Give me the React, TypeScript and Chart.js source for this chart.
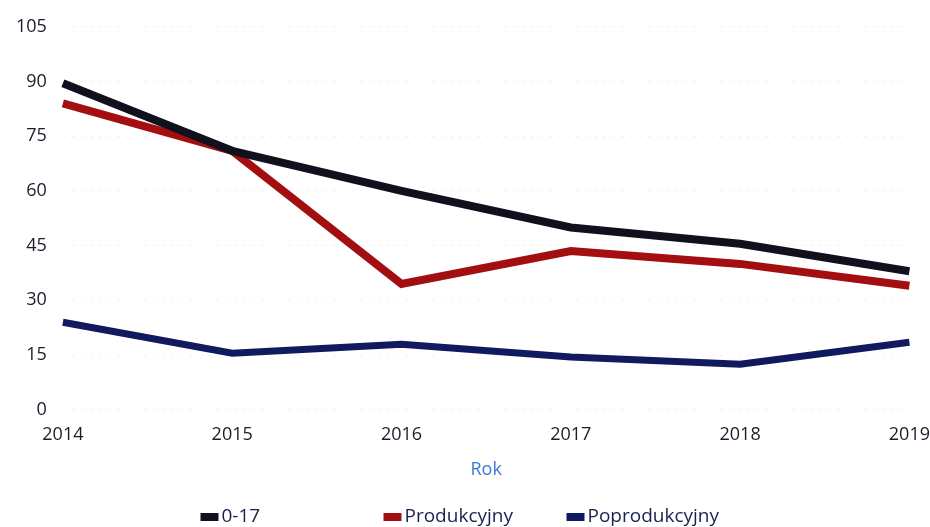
import React, { useEffect, useRef } from "react";
import { Chart, registerables } from "chart.js";

Chart.register(...registerables);

const years = ["2014", "2015", "2016", "2017", "2018", "2019"];
const age017 = [89.5, 71, 60, 50, 45.5, 38];
const produkcyjny = [84, 71, 34.5, 43.5, 40, 34];
const poprodukcyjny = [24, 15.5, 18, 14.5, 12.5, 18.5];
const yTicks = [0, 15, 30, 45, 60, 75, 90, 105];

const FONT = "'Open Sans', 'DejaVu Sans', sans-serif";

const columnLegend = {
  id: "columnLegend",
  afterDraw(chart: any) {
    const ctx = chart.ctx;
    const ds = chart.data.datasets;
    const colW = 183;
    const startX = chart.width / 2 - (ds.length * colW) / 2 + 10;
    const y = chart.height - 10;
    ctx.save();
    ctx.font = `19px ${FONT}`;
    ctx.textBaseline = "middle";
    ctx.textAlign = "left";
    ds.forEach((d: any, i: number) => {
      const x = startX + i * colW;
      ctx.fillStyle = d.borderColor;
      ctx.fillRect(x, y - 4, 18, 8);
      ctx.fillStyle = "#1a2050";
      ctx.fillText(d.label, x + 21, y);
    });
    ctx.restore();
  },
};

export default function App() {
  const ref = useRef<HTMLCanvasElement | null>(null);
  useEffect(() => {
    document.body.style.margin = "0";
    if (!ref.current) return;
    const chart = new Chart(ref.current, {
      type: "line",
      data: {
        labels: years,
        datasets: [
          { label: "0-17", data: age017, borderColor: "#11111d", backgroundColor: "#11111d", borderWidth: 8, pointRadius: 0, tension: 0 },
          { label: "Produkcyjny", data: produkcyjny, borderColor: "#a30f10", backgroundColor: "#a30f10", borderWidth: 8, pointRadius: 0, tension: 0 },
          { label: "Poprodukcyjny", data: poprodukcyjny, borderColor: "#101a5e", backgroundColor: "#101a5e", borderWidth: 7, pointRadius: 0, tension: 0 },
        ],
      },
      options: {
        animation: false,
        responsive: false,
        maintainAspectRatio: false,
        layout: { padding: { left: 0, right: 3, top: 20, bottom: 42 } },
        scales: {
          x: {
            grid: { display: false, drawTicks: true, tickLength: 14, tickColor: "rgba(0,0,0,0)" },
            border: { display: false },
            ticks: { color: "#1c1c2c", font: { family: FONT, size: 18 }, padding: 0, maxRotation: 0 },
            title: { display: true, text: "Rok", color: "#3d7ad6", font: { family: FONT, size: 18 }, padding: { top: 14, bottom: 4 } },
          },
          y: {
            min: 0,
            max: 105,
            afterBuildTicks: (axis: any) => {
              axis.ticks = yTicks.map((v) => ({ value: v }));
            },
            grid: { color: "rgba(0,0,0,0.05)", drawTicks: false, lineWidth: 1 },
            border: { display: false, dash: [3, 6] },
            ticks: { color: "#1c1c2c", font: { family: FONT, size: 18 }, padding: 16 },
          },
        },
        plugins: {
          legend: { display: false },
          tooltip: { enabled: false },
        },
      },
      plugins: [columnLegend],
    });
    return () => chart.destroy();
  }, []);
  return (
    <div style={{ position: "absolute", left: 0, top: 0, width: 930, height: 527, background: "#fff" }}>
      <canvas ref={ref} width={930} height={527} />
    </div>
  );
}
